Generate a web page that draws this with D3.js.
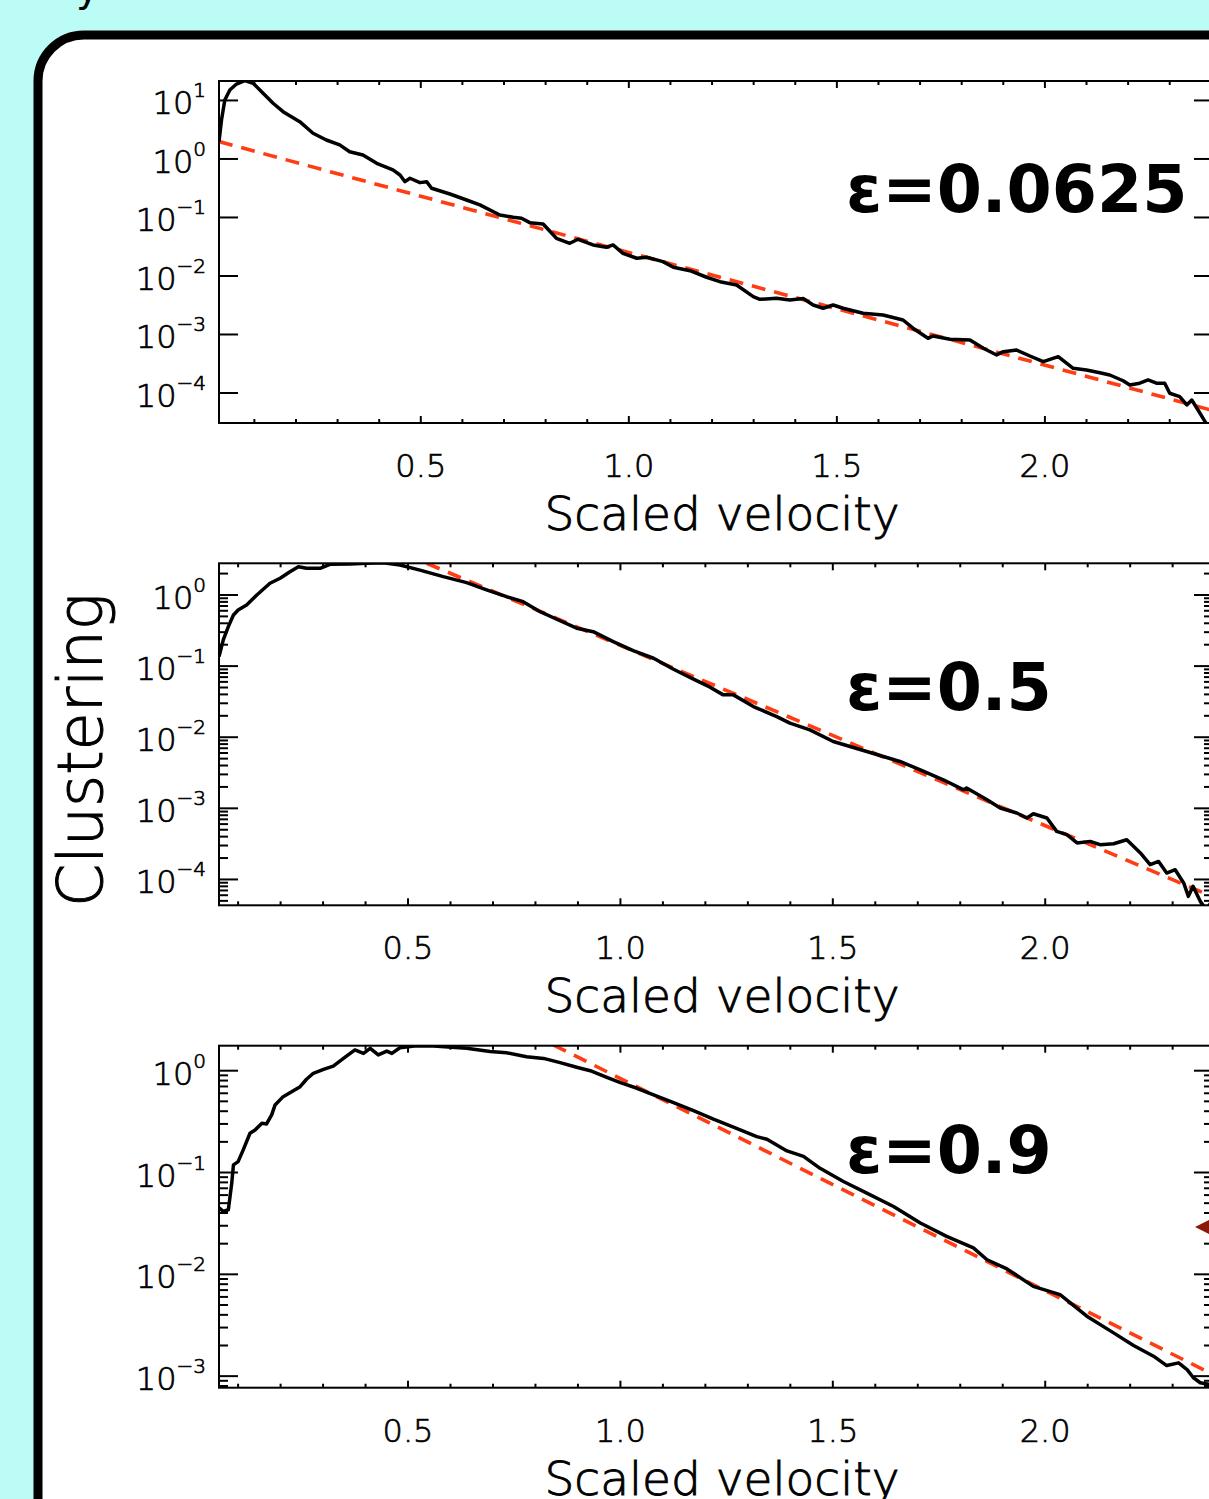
<!DOCTYPE html>
<html>
<head>
<meta charset="utf-8">
<script src="https://cdn.jsdelivr.net/npm/d3@7"></script>
<style>
html, body { margin: 0; padding: 0; background: #bbfcf7; }
svg { display: block; }
</style>
</head>
<body>
<svg width="1209" height="1499"></svg>
<script>
// ---- data ----
var epsLabels = ["ε=0.0625", "ε=0.5", "ε=0.9"];
var xDomains = [[0.015, 2.404], [0.055, 2.395], [0.055, 2.395]];
var yDomains = [[3.07e-5, 21.5], [4.33e-5, 2.79], [7.7e-4, 1.76]];
var yMajor = [
  [1e1, 1e0, 1e-1, 1e-2, 1e-3, 1e-4],
  [1e0, 1e-1, 1e-2, 1e-3, 1e-4],
  [1e0, 1e-1, 1e-2, 1e-3]
];
var xMajor = [0.5, 1.0, 1.5, 2.0];
var xMinor = [0.1, 0.2, 0.3, 0.4, 0.6, 0.7, 0.8, 0.9, 1.1, 1.2, 1.3, 1.4, 1.6, 1.7, 1.8, 1.9, 2.1, 2.2, 2.3];

var curve1 = [[0.015,1.98],[0.021,4.64],[0.029,10.2],[0.041,15.1],[0.057,19.1],[0.077,21.8],[0.097,19.7],[0.121,13.3],[0.145,8.96],[0.169,6.44],[0.209,4.34],[0.241,2.75],[0.273,2.11],[0.305,1.74],[0.329,1.33],[0.361,1.17],[0.394,0.844],[0.433,0.649],[0.450,0.533],[0.462,0.409],[0.474,0.468],[0.498,0.394],[0.514,0.409],[0.526,0.316],[0.570,0.252],[0.610,0.199],[0.642,0.164],[0.690,0.110],[0.722,0.101],[0.742,0.0969],[0.762,0.0815],[0.794,0.0774],[0.826,0.0441],[0.858,0.0362],[0.878,0.0424],[0.914,0.0339],[0.946,0.0310],[0.962,0.0339],[0.986,0.0244],[1.019,0.0201],[1.043,0.0209],[1.082,0.0176],[1.107,0.0141],[1.147,0.0123],[1.187,0.00951],[1.219,0.00799],[1.259,0.00702],[1.299,0.00443],[1.315,0.00400],[1.355,0.00416],[1.387,0.00389],[1.419,0.00412],[1.443,0.00319],[1.467,0.00281],[1.491,0.00319],[1.515,0.00281],[1.563,0.00230],[1.611,0.00215],[1.659,0.00177],[1.683,0.00128],[1.719,0.000861],[1.731,0.000942],[1.772,0.000828],[1.820,0.000805],[1.852,0.000581],[1.884,0.000447],[1.900,0.000508],[1.932,0.000543],[1.964,0.000429],[1.996,0.000343],[2.032,0.000418],[2.068,0.000264],[2.100,0.000247],[2.132,0.000222],[2.156,0.000203],[2.188,0.000162],[2.204,0.000137],[2.228,0.000147],[2.248,0.000167],[2.268,0.000147],[2.288,0.000147],[2.300,0.0000989],[2.324,0.0000865],[2.341,0.0000624],[2.353,0.0000759],[2.368,0.0000512],[2.385,0.0000323],[2.400,0.0000233]];

var curve2 = [[0.055,0.136],[0.065,0.233],[0.077,0.359],[0.089,0.524],[0.100,0.616],[0.120,0.724],[0.144,1.0],[0.175,1.46],[0.199,1.72],[0.222,2.12],[0.242,2.50],[0.261,2.37],[0.293,2.37],[0.316,2.70],[0.363,2.73],[0.403,2.79],[0.442,2.84],[0.481,2.64],[0.528,2.24],[0.583,1.81],[0.638,1.49],[0.685,1.18],[0.732,0.946],[0.771,0.805],[0.811,0.583],[0.850,0.456],[0.897,0.341],[0.936,0.305],[0.983,0.221],[1.030,0.165],[1.078,0.129],[1.125,0.0904],[1.172,0.0655],[1.211,0.0506],[1.242,0.0394],[1.266,0.0394],[1.313,0.0270],[1.368,0.0195],[1.399,0.0158],[1.446,0.0127],[1.501,0.00871],[1.580,0.00630],[1.658,0.00456],[1.706,0.00348],[1.760,0.00252],[1.808,0.00182],[1.815,0.00193],[1.863,0.00132],[1.894,0.00101],[1.933,0.000859],[1.957,0.000731],[1.972,0.000840],[2.004,0.000731],[2.027,0.000474],[2.051,0.000426],[2.075,0.000326],[2.106,0.000343],[2.129,0.000308],[2.161,0.000318],[2.192,0.000362],[2.224,0.000236],[2.247,0.000161],[2.267,0.000179],[2.286,0.000123],[2.306,0.000137],[2.326,0.0000893],[2.337,0.0000579],[2.348,0.0000800],[2.365,0.0000492],[2.379,0.0000377],[2.395,0.000052]];

var curve3 = [[0.055,0.0451],[0.065,0.0415],[0.077,0.0431],[0.085,0.0787],[0.089,0.119],[0.100,0.128],[0.112,0.167],[0.128,0.243],[0.140,0.262],[0.156,0.305],[0.167,0.300],[0.179,0.368],[0.187,0.461],[0.206,0.556],[0.226,0.622],[0.246,0.697],[0.261,0.824],[0.277,0.943],[0.301,1.03],[0.324,1.11],[0.348,1.32],[0.375,1.60],[0.395,1.48],[0.411,1.66],[0.430,1.43],[0.450,1.56],[0.462,1.48],[0.481,1.68],[0.520,1.76],[0.560,1.75],[0.638,1.66],[0.693,1.54],[0.732,1.50],[0.779,1.37],[0.819,1.32],[0.858,1.20],[0.897,1.08],[0.929,1.0],[0.968,0.861],[1.000,0.763],[1.039,0.672],[1.078,0.578],[1.125,0.486],[1.172,0.405],[1.219,0.334],[1.266,0.279],[1.321,0.225],[1.345,0.212],[1.392,0.163],[1.431,0.144],[1.470,0.110],[1.525,0.0816],[1.580,0.0628],[1.643,0.0464],[1.706,0.0319],[1.768,0.0236],[1.831,0.0182],[1.863,0.0139],[1.910,0.0113],[1.972,0.00762],[2.035,0.00632],[2.098,0.00388],[2.161,0.00266],[2.208,0.00200],[2.255,0.00157],[2.286,0.00127],[2.314,0.00135],[2.334,0.00116],[2.349,0.000964],[2.365,0.000861],[2.386,0.000829]];

// exponential fits (straight on the log axis)
var fit1 = [[0.015, 1.98], [2.404, 5.0e-5]];
var fit2 = [[0.544, 2.79], [2.395, 5.7e-5]];
var fit3 = [[0.842, 1.79], [2.395, 1.04e-3]];

var curves = [curve1, curve2, curve3];
var fits = [fit1, fit2, fit3];

// ---- layout ----
var svg = d3.select("svg");
var font = "'DejaVu Sans', Verdana, sans-serif";
var left = 219, right = 1213, plotH = 342;
var tops = [81, 563.3, 1045.7];
var epsY = [212, 710, 1173];
var withMinorY = [false, true, true];

// light text, thickened a little with a thin outline
function lightText(sel, size) {
  return sel.attr("font-family", font).attr("font-weight", 200)
    .attr("font-size", size)
    .attr("fill", "#000").attr("stroke", "#000").attr("stroke-width", 0.7);
}

// fragment of text cut off at the very top
svg.append("text")
  .attr("x", 76).attr("y", 1)
  .attr("font-family", font).attr("font-size", 40)
  .text("y");

// rounded white panel
svg.append("rect")
  .attr("x", 38).attr("y", 35)
  .attr("width", 1300).attr("height", 1600)
  .attr("rx", 46)
  .attr("fill", "#fff")
  .attr("stroke", "#000")
  .attr("stroke-width", 9);

lightText(svg.append("text"), 62)
  .attr("transform", "translate(102,750) rotate(-90)")
  .attr("text-anchor", "middle")
  .attr("stroke-width", 1)
  .text("Clustering");

curves.forEach(function(curve, i) {
  var top = tops[i], bottom = top + plotH;
  var x = d3.scaleLinear().domain(xDomains[i]).range([left, right]);
  var y = d3.scaleLog().domain(yDomains[i]).range([bottom, top]);
  var g = svg.append("g");

  g.append("clipPath").attr("id", "clip" + i)
    .append("rect")
    .attr("x", left).attr("y", top)
    .attr("width", right - left).attr("height", plotH);

  var line = d3.line()
    .x(function(d) { return x(d[0]); })
    .y(function(d) { return y(d[1]); });

  g.append("path")
    .datum(fits[i])
    .attr("clip-path", "url(#clip" + i + ")")
    .attr("d", line)
    .attr("fill", "none")
    .attr("stroke", "#ff3c12")
    .attr("stroke-width", 3.6)
    .attr("stroke-dasharray", "14,9");

  g.append("path")
    .datum(curve)
    .attr("clip-path", "url(#clip" + i + ")")
    .attr("d", line)
    .attr("fill", "none")
    .attr("stroke", "#000")
    .attr("stroke-width", 3.5)
    .attr("stroke-linejoin", "round");

  // frame
  g.append("rect")
    .attr("x", left).attr("y", top)
    .attr("width", right - left).attr("height", plotH)
    .attr("fill", "none").attr("stroke", "#000").attr("stroke-width", 2);

  // x ticks, bottom and top
  function xTicks(vals, len) {
    g.selectAll(null).data(vals).enter().append("line")
      .attr("x1", function(d) { return x(d); }).attr("x2", function(d) { return x(d); })
      .attr("y1", bottom).attr("y2", bottom - len)
      .attr("stroke", "#000").attr("stroke-width", 2);
    g.selectAll(null).data(vals).enter().append("line")
      .attr("x1", function(d) { return x(d); }).attr("x2", function(d) { return x(d); })
      .attr("y1", top).attr("y2", top + len)
      .attr("stroke", "#000").attr("stroke-width", 2);
  }
  xTicks(xMajor, 7);
  xTicks(xMinor, 4);

  // y ticks, left and right
  function yTicks(vals, len) {
    g.selectAll(null).data(vals).enter().append("line")
      .attr("x1", left).attr("x2", left + len)
      .attr("y1", function(d) { return y(d); }).attr("y2", function(d) { return y(d); })
      .attr("stroke", "#000").attr("stroke-width", 2);
    g.selectAll(null).data(vals).enter().append("line")
      .attr("x1", right).attr("x2", right - len)
      .attr("y1", function(d) { return y(d); }).attr("y2", function(d) { return y(d); })
      .attr("stroke", "#000").attr("stroke-width", 2);
  }
  yTicks(yMajor[i], 19);
  if (withMinorY[i]) {
    var dom = y.domain(), minor = [];
    for (var e = Math.floor(Math.log10(dom[0])); e <= Math.ceil(Math.log10(dom[1])); e++) {
      for (var k = 2; k <= 9; k++) {
        var v = k * Math.pow(10, e);
        if (v >= dom[0] && v <= dom[1]) minor.push(v);
      }
    }
    yTicks(minor, 9);
  }

  // y labels 10^n
  var yl = lightText(g.selectAll(null).data(yMajor[i]).enter().append("text"), 32)
    .attr("x", 206)
    .attr("y", function(d) { return y(d) + 14; })
    .attr("text-anchor", "end");
  yl.append("tspan").text("10");
  yl.append("tspan")
    .attr("dy", -17)
    .attr("font-size", 20)
    .text(function(d) {
      var n = Math.round(Math.log10(d));
      return n < 0 ? "\u2212" + (-n) : String(n);
    });

  // x labels
  lightText(g.selectAll(null).data(xMajor).enter().append("text"), 32)
    .attr("x", function(d) { return x(d); })
    .attr("y", bottom + 54)
    .attr("text-anchor", "middle")
    .text(d3.format(".1f"));

  lightText(g.append("text"), 47)
    .attr("x", 722).attr("y", bottom + 107)
    .attr("text-anchor", "middle")
    .attr("stroke-width", 0.9)
    .text("Scaled velocity");

  g.append("text")
    .attr("x", 846).attr("y", epsY[i])
    .attr("font-family", font).attr("font-weight", "bold")
    .attr("font-size", 65)
    .text(epsLabels[i]);
});

// small marker at the right edge of the lower panel
svg.append("path")
  .attr("d", "M1195,1227 L1215,1217 L1215,1237 Z")
  .attr("fill", "#8b1a08");
</script>
</body>
</html>
